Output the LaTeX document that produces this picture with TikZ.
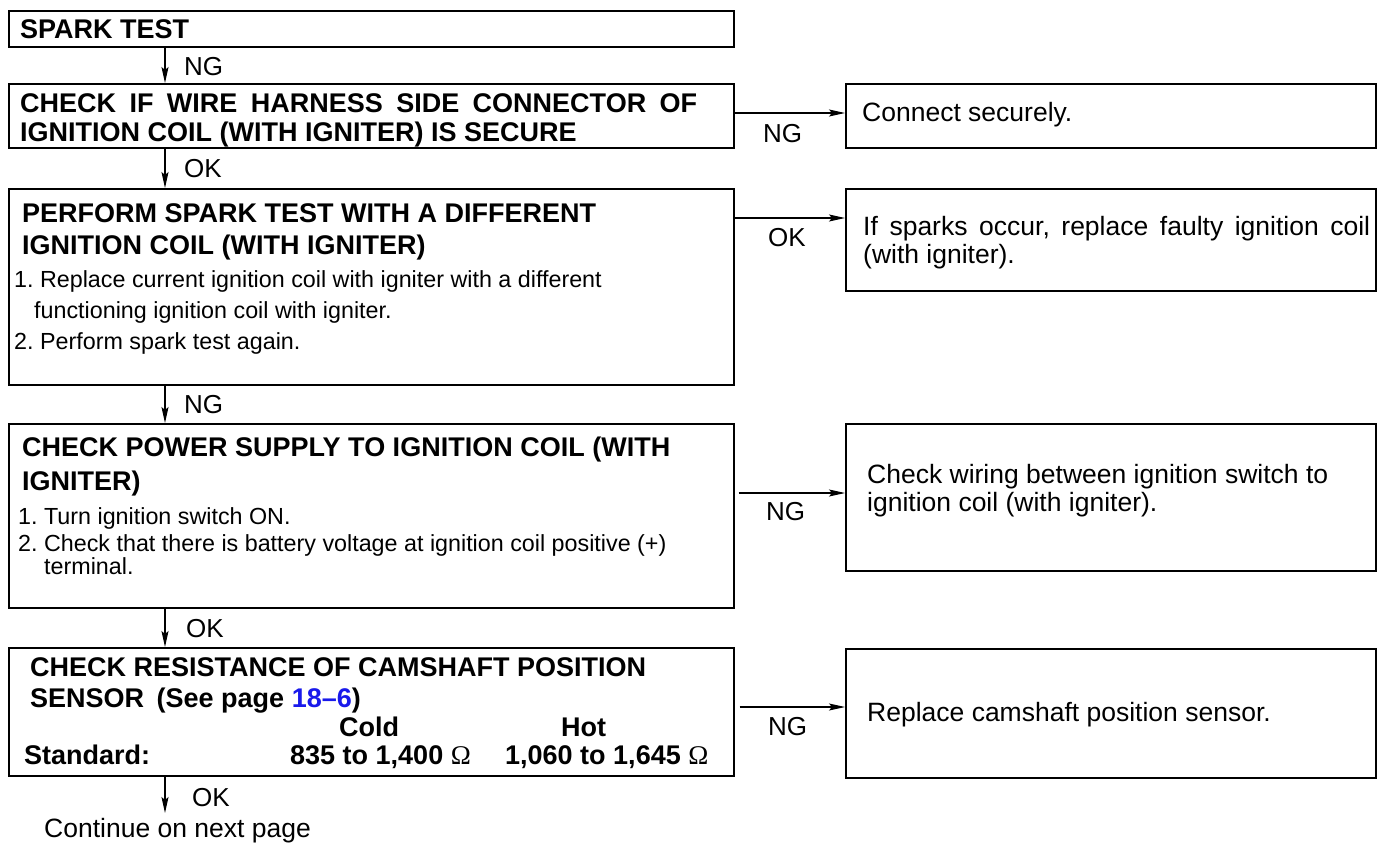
\documentclass[tikz,border=0pt]{standalone}
\usepackage{fontspec}
\setmainfont{Liberation Sans}
\newfontfamily\omegafont{Liberation Serif}
\usetikzlibrary{arrows.meta}
\definecolor{linkblue}{RGB}{25,25,235}
\frenchspacing
\tikzset{
  stepbox/.style={draw=black, line width=1.7pt, inner sep=0pt, anchor=north west},
  arr/.style={line width=1.1pt, -{Stealth[length=16pt,width=7pt,inset=3pt]}},
  ttl/.style={anchor=base west, inner sep=0pt, font=\fontsize{27}{32}\selectfont\bfseries},
  itm/.style={anchor=base west, inner sep=0pt, font=\fontsize{23.3}{27}\selectfont},
  rtx/.style={anchor=base west, inner sep=0pt, font=\fontsize{26.5}{30}\selectfont},
  lbl/.style={anchor=base west, inner sep=0pt, font=\fontsize{26}{30}\selectfont},
}
\begin{document}
\begin{tikzpicture}[x=1pt,y=-1pt]
\useasboundingbox (0,0) rectangle (1384,844);
% left boxes
\node[stepbox, minimum width=725pt, minimum height=36pt]  (b1) at (8,10) {};
\node[stepbox, minimum width=725pt, minimum height=64pt]  (b2) at (8,83) {};
\node[stepbox, minimum width=725pt, minimum height=196pt] (b3) at (8,188) {};
\node[stepbox, minimum width=725pt, minimum height=184pt] (b4) at (8,423) {};
\node[stepbox, minimum width=725pt, minimum height=128pt] (b5) at (8,647) {};
% right boxes
\node[stepbox, minimum width=530pt, minimum height=64pt]  (rA) at (845,83) {};
\node[stepbox, minimum width=530pt, minimum height=102pt] (rB) at (845,188) {};
\node[stepbox, minimum width=530pt, minimum height=147pt] (rC) at (845,423) {};
\node[stepbox, minimum width=530pt, minimum height=129pt] (rD) at (845,648) {};
% texts in left boxes
\node[ttl] (t1) at (20,38) {SPARK TEST};
\node[ttl] (t2a) at (20,112) {\makebox[677pt][s]{CHECK IF WIRE HARNESS SIDE CONNECTOR OF}};
\node[ttl] (t2b) at (20,141) {IGNITION COIL (WITH IGNITER) IS SECURE};
\node[ttl] (t3a) at (22,222) {PERFORM SPARK TEST WITH A DIFFERENT};
\node[ttl] (t3b) at (22,254) {IGNITION COIL (WITH IGNITER)};
\node[itm] (t3c) at (14,287) {1. Replace current ignition coil with igniter with a different};
\node[itm] (t3d) at (34,318) {functioning ignition coil with igniter.};
\node[itm] (t3e) at (14,349) {2. Perform spark test again.};
\node[ttl] (t4a) at (22,456) {CHECK POWER SUPPLY TO IGNITION COIL (WITH};
\node[ttl] (t4b) at (22,490) {IGNITER)};
\node[itm] (t4c) at (18,524) {1. Turn ignition switch ON.};
\node[itm] (t4d) at (18,551) {2. Check that there is battery voltage at ignition coil positive (+)};
\node[itm] (t4e) at (44,574) {terminal.};
\node[ttl] (t5a) at (30,676) {CHECK RESISTANCE OF CAMSHAFT POSITION};
\node[ttl] (t5b) at (30,707) {SENSOR\hspace{5pt} (See page \textcolor{linkblue}{18–6})};
\node[ttl] (t5c) at (339,736) {Cold};
\node[ttl] (t5d) at (561,736) {Hot};
\node[ttl] (t5e) at (24,764) {Standard:};
\node[ttl] (t5f) at (290,764) {835 to 1,400 {\omegafont\mdseries Ω}};
\node[ttl] (t5g) at (505,764) {1,060 to 1,645 {\omegafont\mdseries Ω}};
% texts in right boxes
\node[rtx] (tA) at (862,121) {Connect securely.};
\node[rtx] (tBa) at (863,235) {\makebox[507pt][s]{If sparks occur, replace faulty ignition coil}};
\node[rtx] (tBb) at (863,263) {(with igniter).};
\node[rtx] (tCa) at (867,483) {Check wiring between ignition switch to};
\node[rtx] (tCb) at (867,511) {ignition coil (with igniter).};
\node[rtx] (tD) at (867,721) {Replace camshaft position sensor.};
% connectors down
\coordinate (ax) at (165,0);
\coordinate (endc) at (165,813);
\draw[arr] (b1.south -| ax) -- (b2.north -| ax);
\draw[arr] (b2.south -| ax) -- (b3.north -| ax);
\draw[arr] (b3.south -| ax) -- (b4.north -| ax);
\draw[arr] (b4.south -| ax) -- (b5.north -| ax);
\draw[arr] (b5.south -| ax) -- (endc);
\node[lbl] (l1) at (184,75) {NG};
\node[lbl] (l2) at (184,177) {OK};
\node[lbl] (l3) at (184,413) {NG};
\node[lbl] (l4) at (186,637) {OK};
\node[lbl] (l5) at (192,806) {OK};
\node[rtx] (cont) at (44,837) {Continue on next page};
% connectors right
\coordinate (yA) at (0,113);
\coordinate (yB) at (0,218);
\coordinate (yC) at (0,493);
\coordinate (yD) at (0,707);
\draw[arr] (b2.east |- yA) -- (rA.west |- yA);
\draw[arr] (b3.east |- yB) -- (rB.west |- yB);
\draw[arr] ([xshift=4pt]b4.east |- yC) -- (rC.west |- yC);
\draw[arr] ([xshift=5pt]b5.east |- yD) -- (rD.west |- yD);
\node[lbl] (lA) at (763,142) {NG};
\node[lbl] (lB) at (768,246) {OK};
\node[lbl] (lC) at (766,520) {NG};
\node[lbl] (lD) at (768,735) {NG};
\end{tikzpicture}
\end{document}
